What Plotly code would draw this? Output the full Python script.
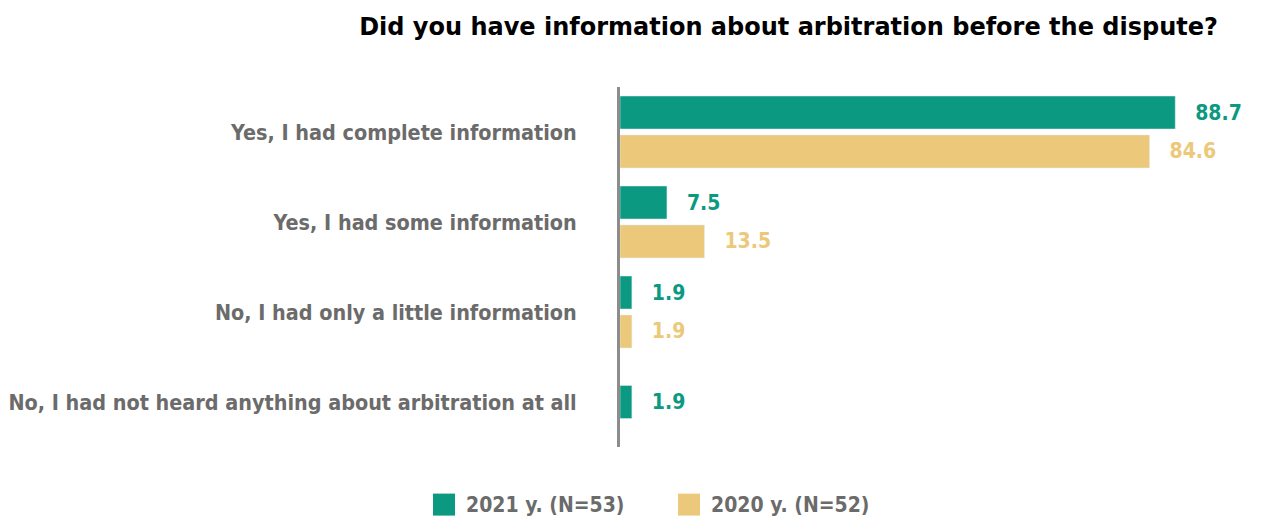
import plotly.graph_objects as go

categories = [
    "Yes, I had complete information",
    "Yes, I had some information",
    "No, I had only a little information",
    "No, I had not heard anything about arbitration at all",
]
values_2021 = [88.7, 7.5, 1.9, 1.9]
values_2020 = [84.6, 13.5, 1.9, None]
series_names = ["2021 y. (N=53)", "2020 y. (N=52)"]

TEAL = "#0b9981"
GOLD = "#ecc97a"
GREY = "#6b6b6b"
LABEL_FONT = "DejaVu Sans Condensed, DejaVu Sans, sans-serif"

bar_w = 0.367
gap = 0.033

# top bar of each pair sits above the category centre, the other below;
# a category with a single bar is centred on its label
off_2021 = [-(bar_w + gap) if v is not None else -bar_w / 2 for v in values_2020]
off_2020 = [gap] * len(categories)


def labels(vals):
    return ["\u00a0\u00a0\u2009" + f"{v:.1f}" if v is not None else "" for v in vals]


fig = go.Figure()
for name, vals, offs, color in [
    (series_names[0], values_2021, off_2021, TEAL),
    (series_names[1], values_2020, off_2020, GOLD),
]:
    fig.add_trace(go.Bar(
        name=name, y=categories, x=vals, orientation="h",
        marker=dict(color=color), width=[bar_w] * len(categories), offset=offs,
        text=labels(vals), textposition="outside",
        textfont=dict(color=color, size=21, family=LABEL_FONT, weight="bold"),
        cliponaxis=False, showlegend=False,
    ))

# legend: coloured squares with series names underneath the plot
legend_y = -0.16
legend_items = [(series_names[0], TEAL, -0.2987), (series_names[1], GOLD, 0.0927)]
for name, color, lx in legend_items:
    fig.add_shape(
        type="rect", xref="paper", yref="paper",
        xsizemode="pixel", ysizemode="pixel",
        xanchor=lx, yanchor=legend_y,
        x0=0, x1=22, y0=-11, y1=11,
        fillcolor=color, line=dict(width=0),
    )
    fig.add_annotation(
        x=lx, y=legend_y, xref="paper", yref="paper",
        xanchor="left", yanchor="middle", xshift=31, showarrow=False,
        text=name,
        font=dict(family=LABEL_FONT, size=21, color=GREY, weight="bold"),
    )

fig.update_layout(
    width=1266, height=517,
    margin=dict(l=620, r=20, t=87, b=70, autoexpand=False),
    plot_bgcolor="white", paper_bgcolor="white",
    barmode="overlay",
    title=dict(
        text="<b>Did you have information about arbitration before the dispute?</b>",
        x=0.962, xanchor="right", y=0.948, yanchor="middle",
        font=dict(family="DejaVu Sans, sans-serif", size=24, color="#000000"),
    ),
    xaxis=dict(range=[0, 100], visible=False),
    yaxis=dict(
        autorange="reversed", showline=True, linecolor="#8c8c8c", linewidth=3,
        ticks="", ticklabelstandoff=36, showgrid=False, automargin=False,
        tickfont=dict(family=LABEL_FONT, size=21.4, color=GREY, weight="bold"),
    ),
)

fig.write_html("out.html")
